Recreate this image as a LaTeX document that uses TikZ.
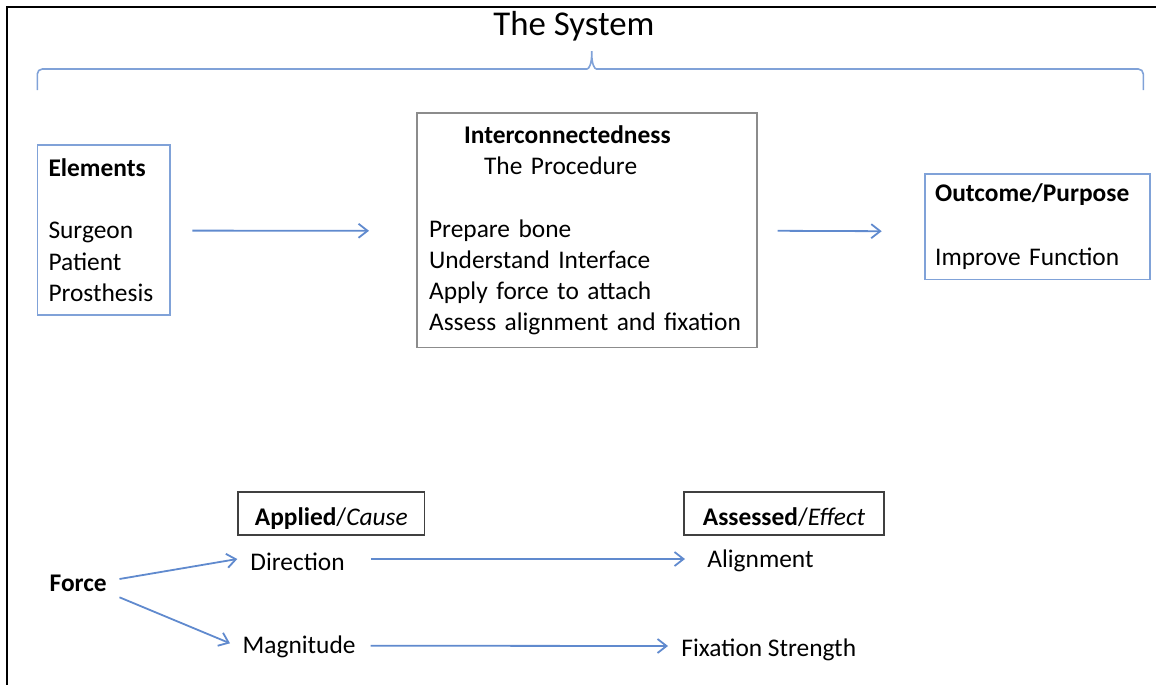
\documentclass[tikz,border=0pt]{standalone}
\usepackage{fontspec}
\setmainfont{Carlito}
\usepackage{tikz}
\usetikzlibrary{positioning,arrows.meta}
\definecolor{linkblue}{RGB}{96,138,206}
\definecolor{boxblue}{RGB}{128,162,216}
\definecolor{boxgrey}{RGB}{140,140,140}
\definecolor{headgrey}{RGB}{64,64,64}

\begin{document}
\begin{tikzpicture}[x=0.5pt,y=-0.5pt,
    every node/.style={font=\fontsize{12.7}{15.6}\selectfont},
    listbox/.style={draw=boxblue,line width=0.8pt,align=left,anchor=north west,inner ysep=0pt},
    headbox/.style={draw=headgrey,line width=0.8pt,inner sep=0pt,minimum width=93.3pt,minimum height=21.5pt,text height=12pt,text depth=0.5pt},
    word/.style={inner sep=0pt,text height=8pt,text depth=0pt,anchor=base west},
    link/.style={draw=linkblue,line width=0.9pt,-{Straight Barb[length=4.5pt,width=7pt]}}]
    \useasboundingbox (0,0) rectangle (1156,685);
    \draw [line width=1pt] (7.3,685) -- (7.3,7.3) -- (1156,7.3);
    \node [font=\fontsize{17.4}{20}\selectfont,anchor=base] (title) at (574,35) {The System};
    \draw [boxblue,line width=0.8pt,rounded corners=2.5pt] (37.3,90) -- (37.3,69) -- (582,69)
      .. controls (589,69) and (591.7,64) .. (591.7,48.3)
      .. controls (591.7,64) and (594.4,69) .. (601.4,69) -- (1143.3,69) -- (1143.3,90);

    \node [listbox,inner xsep=5.5pt,text width=55.15pt,minimum height=85pt] (elements) at (36.7,144.3)
      {\textbf{Elements}\\[15.6pt]Surgeon\\Patient\\\mbox{Prosthesis}};
    \node [listbox,draw=boxgrey,inner xsep=6.15pt,text width=157.7pt,minimum height=117.2pt] (procedure) at (416,112.3)
      {\hspace*{17.5pt}\textbf{Interconnectedness}\\\hspace*{27.5pt}The Procedure\\[15.6pt]Prepare bone\\Understand Interface\\Apply force to attach\\\mbox{Assess alignment and fixation}};
    \node [listbox,inner xsep=5.15pt,text width=102.35pt,minimum height=52.8pt] (outcome) at (924,173)
      {\textbf{Outcome/Purpose}\\[16.2pt]Improve Function};
    \draw [link] ([shift={(21.7,0.5)}]elements.east) -- ([shift={(-47,0.5)}]procedure.west);
    \draw [link] ([shift={(20,0.5)}]procedure.east) -- ([shift={(-42.3,4.6)}]outcome.west);

    \node [headbox] (applied) at (331.3,513.5) {\textbf{Applied}/\textit{Cause}};
    \node [headbox,minimum width=100pt] (assessed) at (784,513.5) {\textbf{Assessed}/\textit{Effect}};
    \node [word] (force) at (49.3,591.5) {\textbf{Force}};
    \node [word] (direction) at (250,570.5) {Direction};
    \node [word] (magnitude) at (242.3,653.3) {Magnitude};
    \node [word] (alignment) at (707,567.5) {Alignment};
    \node [word] (fixation) at (681,656) {Fixation Strength};
    \draw [link] ([shift={(12.3,-4.5)}]force.east) -- ([shift={(-12.7,-3.5)}]direction.west);
    \draw [link] ([shift={(12.3,13.8)}]force.east) -- ([shift={(-12.3,-2)}]magnitude.west);
    \draw [link] ([shift={(25.7,-3.5)}]direction.east) -- ([shift={(-22,-0.5)}]alignment.west);
    \draw [link] ([shift={(14.7,0.4)}]magnitude.east) -- ([shift={(-13,-2)}]fixation.west);
\end{tikzpicture}
\end{document}
